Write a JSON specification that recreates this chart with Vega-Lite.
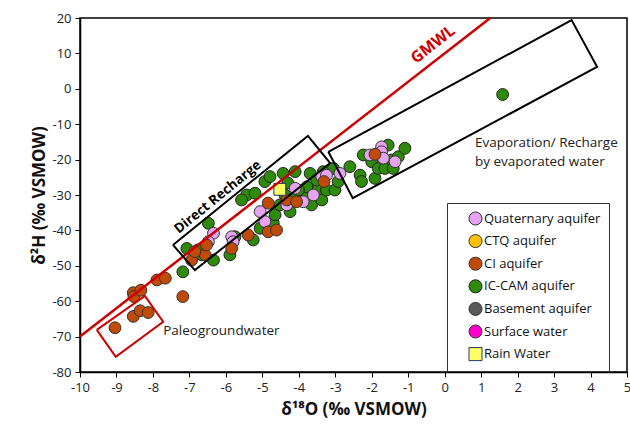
{
  "$schema": "https://vega.github.io/schema/vega-lite/v6.json",
  "width": 547,
  "height": 354,
  "autosize": "none",
  "padding": {"left": 80, "top": 18, "right": 3, "bottom": 57},
  "background": "white",
  "config": {
    "view": {"stroke": "#000", "strokeWidth": 1.5},
    "font": "Open Sans",
    "axis": {"grid": false, "domainColor": "#000", "domainWidth": 1.5, "tickColor": "#000", "tickSize": 5, "labelFontSize": 13, "labelColor": "#222", "titleFontSize": 17, "titleFontWeight": "bold", "titleColor": "#111", "labelFont": "Open Sans", "titleFont": "Open Sans", "labelOverlap": false}
  },
  "datasets": {
    "pts": [
      {"x": -7.18, "y": -51.7, "type": "IC-CAM aquifer"},
      {"x": -7.07, "y": -45.1, "type": "IC-CAM aquifer"},
      {"x": -6.48, "y": -38.0, "type": "IC-CAM aquifer"},
      {"x": -6.34, "y": -48.4, "type": "IC-CAM aquifer"},
      {"x": -5.89, "y": -46.9, "type": "IC-CAM aquifer"},
      {"x": -5.75, "y": -41.8, "type": "IC-CAM aquifer"},
      {"x": -5.25, "y": -42.7, "type": "IC-CAM aquifer"},
      {"x": -5.06, "y": -39.4, "type": "IC-CAM aquifer"},
      {"x": -4.70, "y": -38.0, "type": "IC-CAM aquifer"},
      {"x": -4.65, "y": -35.6, "type": "IC-CAM aquifer"},
      {"x": -5.43, "y": -30.0, "type": "IC-CAM aquifer"},
      {"x": -5.57, "y": -31.4, "type": "IC-CAM aquifer"},
      {"x": -5.20, "y": -29.5, "type": "IC-CAM aquifer"},
      {"x": -4.93, "y": -26.2, "type": "IC-CAM aquifer"},
      {"x": -4.79, "y": -24.8, "type": "IC-CAM aquifer"},
      {"x": -4.43, "y": -23.9, "type": "IC-CAM aquifer"},
      {"x": -4.10, "y": -23.4, "type": "IC-CAM aquifer"},
      {"x": -4.24, "y": -34.7, "type": "IC-CAM aquifer"},
      {"x": -4.52, "y": -32.8, "type": "IC-CAM aquifer"},
      {"x": -4.15, "y": -30.9, "type": "IC-CAM aquifer"},
      {"x": -3.88, "y": -29.5, "type": "IC-CAM aquifer"},
      {"x": -3.65, "y": -32.8, "type": "IC-CAM aquifer"},
      {"x": -3.37, "y": -31.4, "type": "IC-CAM aquifer"},
      {"x": -3.51, "y": -28.6, "type": "IC-CAM aquifer"},
      {"x": -3.24, "y": -28.6, "type": "IC-CAM aquifer"},
      {"x": -3.01, "y": -28.6, "type": "IC-CAM aquifer"},
      {"x": -2.92, "y": -26.2, "type": "IC-CAM aquifer"},
      {"x": -3.05, "y": -22.5, "type": "IC-CAM aquifer"},
      {"x": -3.33, "y": -23.4, "type": "IC-CAM aquifer"},
      {"x": -3.69, "y": -23.9, "type": "IC-CAM aquifer"},
      {"x": -3.51, "y": -25.8, "type": "IC-CAM aquifer"},
      {"x": -3.78, "y": -27.7, "type": "IC-CAM aquifer"},
      {"x": -4.01, "y": -28.6, "type": "IC-CAM aquifer"},
      {"x": -2.60, "y": -22.0, "type": "IC-CAM aquifer"},
      {"x": -2.32, "y": -24.4, "type": "IC-CAM aquifer"},
      {"x": -2.28, "y": -26.2, "type": "IC-CAM aquifer"},
      {"x": -1.91, "y": -25.3, "type": "IC-CAM aquifer"},
      {"x": -2.23, "y": -18.7, "type": "IC-CAM aquifer"},
      {"x": -2.00, "y": -20.6, "type": "IC-CAM aquifer"},
      {"x": -1.82, "y": -22.5, "type": "IC-CAM aquifer"},
      {"x": -1.64, "y": -22.5, "type": "IC-CAM aquifer"},
      {"x": -1.55, "y": -15.9, "type": "IC-CAM aquifer"},
      {"x": -1.45, "y": -20.1, "type": "IC-CAM aquifer"},
      {"x": -1.27, "y": -19.2, "type": "IC-CAM aquifer"},
      {"x": -1.09, "y": -16.8, "type": "IC-CAM aquifer"},
      {"x": -1.41, "y": -22.5, "type": "IC-CAM aquifer"},
      {"x": -6.66, "y": -46.9, "type": "IC-CAM aquifer"},
      {"x": -6.76, "y": -45.5, "type": "IC-CAM aquifer"},
      {"x": -4.38, "y": -30.0, "type": "IC-CAM aquifer"},
      {"x": -4.30, "y": -26.6, "type": "IC-CAM aquifer"},
      {"x": 1.59, "y": -1.6, "type": "IC-CAM aquifer"},
      {"x": -6.34, "y": -40.8, "type": "Quaternary aquifer"},
      {"x": -6.48, "y": -43.2, "type": "Quaternary aquifer"},
      {"x": -5.84, "y": -41.8, "type": "Quaternary aquifer"},
      {"x": -5.80, "y": -43.2, "type": "Quaternary aquifer"},
      {"x": -5.06, "y": -34.7, "type": "Quaternary aquifer"},
      {"x": -4.93, "y": -37.5, "type": "Quaternary aquifer"},
      {"x": -4.33, "y": -32.8, "type": "Quaternary aquifer"},
      {"x": -4.10, "y": -28.1, "type": "Quaternary aquifer"},
      {"x": -3.88, "y": -31.9, "type": "Quaternary aquifer"},
      {"x": -3.60, "y": -30.0, "type": "Quaternary aquifer"},
      {"x": -3.37, "y": -24.8, "type": "Quaternary aquifer"},
      {"x": -2.87, "y": -23.9, "type": "Quaternary aquifer"},
      {"x": -3.24, "y": -24.4, "type": "Quaternary aquifer"},
      {"x": -2.05, "y": -18.7, "type": "Quaternary aquifer"},
      {"x": -1.73, "y": -16.4, "type": "Quaternary aquifer"},
      {"x": -1.73, "y": -17.8, "type": "Quaternary aquifer"},
      {"x": -1.68, "y": -19.6, "type": "Quaternary aquifer"},
      {"x": -1.36, "y": -20.6, "type": "Quaternary aquifer"},
      {"x": -6.94, "y": -48.4, "type": "CI aquifer"},
      {"x": -6.57, "y": -46.9, "type": "CI aquifer"},
      {"x": -6.53, "y": -44.1, "type": "CI aquifer"},
      {"x": -6.85, "y": -46.0, "type": "CI aquifer"},
      {"x": -5.84, "y": -45.1, "type": "CI aquifer"},
      {"x": -5.39, "y": -41.3, "type": "CI aquifer"},
      {"x": -4.84, "y": -40.4, "type": "CI aquifer"},
      {"x": -4.61, "y": -39.9, "type": "CI aquifer"},
      {"x": -4.84, "y": -32.3, "type": "CI aquifer"},
      {"x": -4.33, "y": -31.4, "type": "CI aquifer"},
      {"x": -4.06, "y": -31.9, "type": "CI aquifer"},
      {"x": -3.31, "y": -26.2, "type": "CI aquifer"},
      {"x": -1.91, "y": -18.5, "type": "CI aquifer"},
      {"x": -9.04, "y": -67.5, "type": "CI aquifer"},
      {"x": -8.54, "y": -64.3, "type": "CI aquifer"},
      {"x": -8.35, "y": -62.7, "type": "CI aquifer"},
      {"x": -8.13, "y": -63.2, "type": "CI aquifer"},
      {"x": -8.54, "y": -57.6, "type": "CI aquifer"},
      {"x": -8.52, "y": -58.7, "type": "CI aquifer"},
      {"x": -8.33, "y": -56.9, "type": "CI aquifer"},
      {"x": -7.89, "y": -54.0, "type": "CI aquifer"},
      {"x": -7.66, "y": -53.5, "type": "CI aquifer"},
      {"x": -7.18, "y": -58.7, "type": "CI aquifer"},
      {"x": -4.52, "y": -28.4, "type": "Rain Water"}
    ],
    "gmwl": [{"x": -10, "y": -70}, {"x": 1.25, "y": 20}],
    "boxes": [
      {"box": "direct", "o": 1, "x": -7.45, "y": -44.1},
      {"box": "direct", "o": 2, "x": -6.85, "y": -51.2},
      {"box": "direct", "o": 3, "x": -3.14, "y": -21.0},
      {"box": "direct", "o": 4, "x": -3.75, "y": -13.3},
      {"box": "direct", "o": 5, "x": -7.45, "y": -44.1},
      {"box": "evap", "o": 1, "x": -3.19, "y": -17.8},
      {"box": "evap", "o": 2, "x": -2.52, "y": -30.9},
      {"box": "evap", "o": 3, "x": 4.18, "y": 6.2},
      {"box": "evap", "o": 4, "x": 3.48, "y": 19.4},
      {"box": "evap", "o": 5, "x": -3.19, "y": -17.8}
    ],
    "paleo": [
      {"box": "paleo", "o": 1, "x": -9.54, "y": -68.1},
      {"box": "paleo", "o": 2, "x": -9.02, "y": -75.7},
      {"box": "paleo", "o": 3, "x": -7.72, "y": -65.8},
      {"box": "paleo", "o": 4, "x": -8.22, "y": -58.5},
      {"box": "paleo", "o": 5, "x": -9.54, "y": -68.1}
    ]
  },
  "encoding": {
    "x": {"field": "x", "type": "quantitative", "scale": {"domain": [-10, 5], "nice": false, "zero": false},
      "axis": {"values": [-10,-9,-8,-7,-6,-5,-4,-3,-2,-1,0,1,2,3,4,5], "labelExpr": "'' + datum.value", "labelOverlap": false, "labelFlush": false, "title": "δ¹⁸O (‰ VSMOW)", "titlePadding": 7, "labelPadding": 4}},
    "y": {"field": "y", "type": "quantitative", "scale": {"domain": [-80, 20], "nice": false, "zero": false},
      "axis": {"values": [-80,-70,-60,-50,-40,-30,-20,-10,0,10,20], "labelExpr": "'' + datum.value", "labelOverlap": false, "labelFlush": false, "title": "δ²H (‰ VSMOW)", "titlePadding": 3, "labelPadding": 4}}
  },
  "layer": [
    {
      "data": {"name": "pts"},
      "mark": {"type": "point", "filled": true, "opacity": 1, "strokeWidth": 1, "size": 140},
      "encoding": {
        "fill": {"field": "type", "type": "nominal",
          "scale": {"domain": ["Quaternary aquifer", "CTQ aquifer", "CI aquifer", "IC-CAM aquifer", "Basement aquifer", "Surface water", "Rain Water"],
                    "range": ["#E6A3F0", "#FFC000", "#C04A08", "#2E8B0A", "#595959", "#FF00CC", "#FFFF66"]},
          "legend": {"title": null, "orient": "none", "legendX": 367, "legendY": 185, "strokeColor": "#333", "fillColor": "white", "padding": 8, "labelFontSize": 13, "labelFont": "Open Sans", "labelColor": "#111", "symbolSize": 170, "rowPadding": 3.6, "symbolOffset": 13, "labelOffset": 1, "symbolStrokeWidth": 1}},
        "shape": {"field": "type", "type": "nominal",
          "scale": {"domain": ["Quaternary aquifer", "CTQ aquifer", "CI aquifer", "IC-CAM aquifer", "Basement aquifer", "Surface water", "Rain Water"],
                    "range": ["circle", "circle", "circle", "circle", "circle", "circle", "square"]}},
        "stroke": {"field": "type", "type": "nominal",
          "scale": {"domain": ["Quaternary aquifer", "CTQ aquifer", "CI aquifer", "IC-CAM aquifer", "Basement aquifer", "Surface water", "Rain Water"],
                    "range": ["#333", "#333", "#333", "#222", "#333", "#333", "#1F3864"]}}
      }
    },
    {
      "data": {"name": "gmwl"},
      "mark": {"type": "line", "color": "#CC0000", "strokeWidth": 2.5},
      "encoding": {}
    },
    {
      "data": {"name": "boxes"},
      "mark": {"type": "line", "color": "#000", "strokeWidth": 2},
      "encoding": {"detail": {"field": "box"}, "order": {"field": "o", "type": "quantitative"}}
    },
    {
      "data": {"name": "paleo"},
      "mark": {"type": "line", "color": "#CC0000", "strokeWidth": 2},
      "encoding": {"detail": {"field": "box"}, "order": {"field": "o", "type": "quantitative"}}
    },
    {
      "data": {"values": [{"x": -0.32, "y": 12.5, "t": "GMWL"}]},
      "mark": {"type": "text", "color": "#CC0000", "fontWeight": "bold", "fontSize": 16, "angle": -38, "font": "Open Sans"},
      "encoding": {"text": {"field": "t"}}
    },
    {
      "data": {"values": [{"x": -6.22, "y": -30.6, "t": "Direct Recharge"}]},
      "mark": {"type": "text", "color": "#000", "fontWeight": "bold", "fontSize": 13.5, "angle": -39, "font": "Open Sans"},
      "encoding": {"text": {"field": "t"}}
    },
    {
      "data": {"values": [{"x": 0.83, "y": -15.3, "t": "Evaporation/ Recharge"}, {"x": 0.83, "y": -20.7, "t": "by evaporated water"}, {"x": -7.72, "y": -68.4, "t": "Paleogroundwater"}]},
      "mark": {"type": "text", "color": "#222", "fontSize": 13.5, "align": "left", "baseline": "middle", "font": "Open Sans"},
      "encoding": {"text": {"field": "t"}}
    }
  ]
}
